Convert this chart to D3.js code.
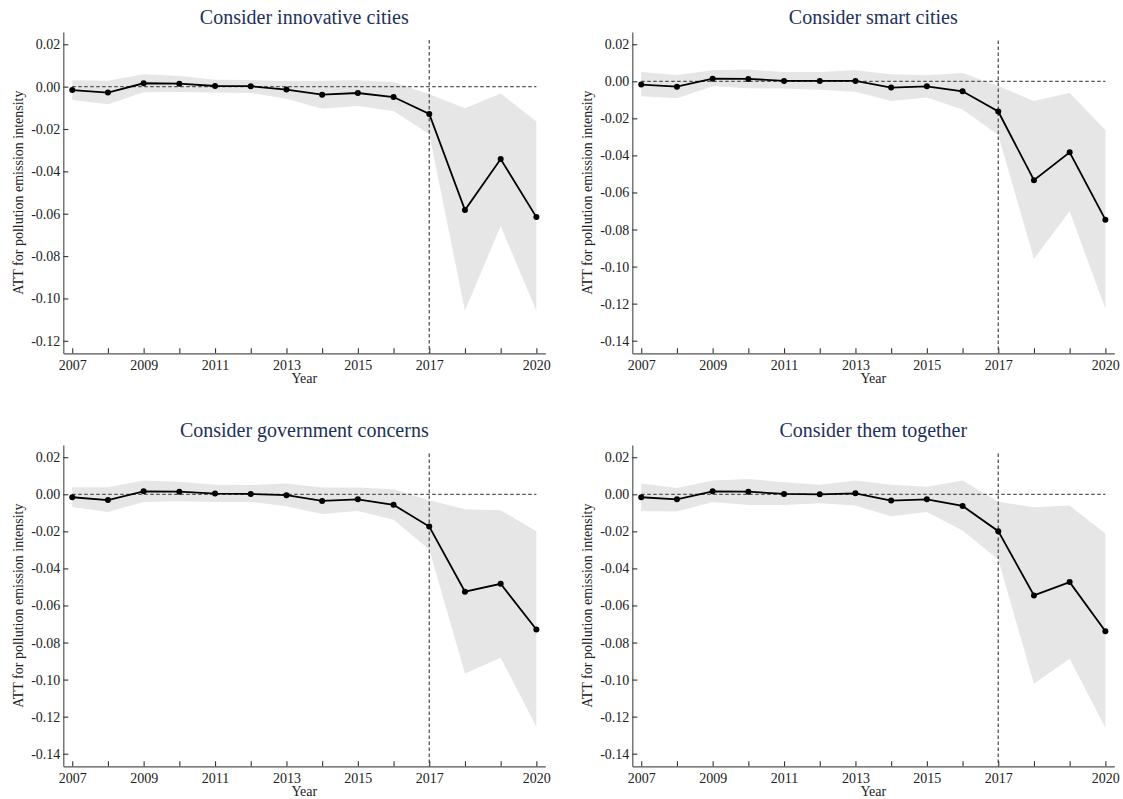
<!DOCTYPE html>
<html>
<head>
<meta charset="utf-8">
<script src="https://cdn.jsdelivr.net/npm/d3@7"></script>
<style>
  html, body { margin: 0; padding: 0; background: #fff; }
  svg { display: block; }
  svg text { font-family: "Liberation Serif", "Times New Roman", Times, serif; }
</style>
</head>
<body>
<svg id="chart" width="1123" height="799"></svg>
<script>
// ---- data ----
const years = [2007, 2008, 2009, 2010, 2011, 2012, 2013, 2014, 2015, 2016, 2017, 2018, 2019, 2020];
const labeledYears = [2007, 2009, 2011, 2013, 2015, 2017, 2020];
const treatYear = 2017;

const titles = [
  "Consider innovative cities",
  "Consider smart cities",
  "Consider government concerns",
  "Consider them together"
];

// point estimates (ATT) and confidence band per panel
const attInnovative   = [-0.0016, -0.0028, 0.0016, 0.0014, 0.0003, 0.0002, -0.0014, -0.0038, -0.0030, -0.0049, -0.0129, -0.0583, -0.0342, -0.0616];
const upperInnovative = [0.0030, 0.0028, 0.0058, 0.0050, 0.0033, 0.0031, 0.0027, 0.0028, 0.0030, 0.0022, -0.0036, -0.0102, -0.0032, -0.0165];
const lowerInnovative = [-0.0063, -0.0083, -0.0027, -0.0025, -0.0028, -0.0030, -0.0057, -0.0104, -0.0091, -0.0115, -0.0224, -0.1058, -0.0658, -0.1058];

const attSmart   = [-0.0018, -0.0029, 0.0014, 0.0013, 0.0002, 0.0002, 0.0002, -0.0034, -0.0027, -0.0054, -0.0163, -0.0534, -0.0383, -0.0747];
const upperSmart = [0.0050, 0.0034, 0.0059, 0.0063, 0.0050, 0.0050, 0.0059, 0.0038, 0.0032, 0.0045, -0.0025, -0.0106, -0.0063, -0.0263];
const lowerSmart = [-0.0081, -0.0091, -0.0027, -0.0038, -0.0039, -0.0045, -0.0057, -0.0106, -0.0088, -0.0152, -0.0290, -0.0958, -0.0702, -0.1227];

const attGov   = [-0.0016, -0.0031, 0.0016, 0.0014, 0.0004, 0.0002, -0.0005, -0.0036, -0.0027, -0.0057, -0.0174, -0.0526, -0.0483, -0.0730];
const upperGov = [0.0038, 0.0038, 0.0075, 0.0068, 0.0052, 0.0050, 0.0058, 0.0036, 0.0036, 0.0027, -0.0032, -0.0081, -0.0086, -0.0199];
const lowerGov = [-0.0068, -0.0095, -0.0041, -0.0038, -0.0041, -0.0041, -0.0065, -0.0106, -0.0090, -0.0137, -0.0298, -0.0967, -0.0882, -0.1254];

const attAll   = [-0.0016, -0.0027, 0.0016, 0.0014, 0.0002, 0.0000, 0.0005, -0.0034, -0.0027, -0.0063, -0.0199, -0.0546, -0.0474, -0.0739];
const upperAll = [0.0058, 0.0034, 0.0074, 0.0083, 0.0065, 0.0052, 0.0074, 0.0052, 0.0041, 0.0074, -0.0040, -0.0070, -0.0061, -0.0212];
const lowerAll = [-0.0092, -0.0093, -0.0041, -0.0058, -0.0058, -0.0049, -0.0061, -0.0119, -0.0095, -0.0196, -0.0352, -0.1022, -0.0888, -0.1260];

// y ticks
const yTicksShort = [0.02, 0.00, -0.02, -0.04, -0.06, -0.08, -0.10, -0.12];
const yTicksLong  = [0.02, 0.00, -0.02, -0.04, -0.06, -0.08, -0.10, -0.12, -0.14];

const yDomainShort = [-0.1259, 0.0258];
const yDomainLong  = [-0.1468, 0.0266];

const yLabel = "ATT for pollution emission intensity";
const xLabel = "Year";

// ---- layout ----
const panels = [
  { title: titles[0], att: attInnovative, upper: upperInnovative, lower: lowerInnovative, ticks: yTicksShort, domain: yDomainShort, col: 0, row: 0 },
  { title: titles[1], att: attSmart,      upper: upperSmart,      lower: lowerSmart,      ticks: yTicksLong,  domain: yDomainLong,  col: 1, row: 0 },
  { title: titles[2], att: attGov,        upper: upperGov,        lower: lowerGov,        ticks: yTicksLong,  domain: yDomainLong,  col: 0, row: 1 },
  { title: titles[3], att: attAll,        upper: upperAll,        lower: lowerAll,        ticks: yTicksLong,  domain: yDomainLong,  col: 1, row: 1 }
];

const colX = [63.3, 632.3];   // left edge (y axis) of each column
const rowTop = [32, 445];     // top of y axis of each row
const plotW = 482;
const plotH = 321.3;

const serif = '"Liberation Serif", "Times New Roman", Times, serif';
const fmt = v => d3.format(".2f")(v).replace("\u2212", "-");
const svg = d3.select("#chart");

panels.forEach(p => {
  const x0 = colX[p.col];
  const y0 = rowTop[p.row];

  const x = d3.scaleLinear().domain([2006.75, 2020.25]).range([x0, x0 + plotW]);
  const y = d3.scaleLinear().domain(p.domain).range([y0 + plotH, y0]);

  const g = svg.append("g");
  const rows = years.map((yr, i) => ({ year: yr, att: p.att[i], lo: p.lower[i], hi: p.upper[i] }));

  // confidence band
  g.append("path")
    .datum(rows)
    .attr("fill", "#e6e6e6")
    .attr("d", d3.area().x(d => x(d.year)).y0(d => y(d.lo)).y1(d => y(d.hi)));

  // zero reference
  g.append("line")
    .attr("x1", x(years[0])).attr("x2", x(years[years.length - 1]))
    .attr("y1", y(0)).attr("y2", y(0))
    .attr("stroke", "#555").attr("stroke-width", 1.3).attr("stroke-dasharray", "3.5,2.5");

  // policy year reference
  g.append("line")
    .attr("x1", x(treatYear)).attr("x2", x(treatYear))
    .attr("y1", y(0.022)).attr("y2", y(p.domain[0]))
    .attr("stroke", "#555").attr("stroke-width", 1.3).attr("stroke-dasharray", "3.5,2.5");

  // estimates
  g.append("path")
    .datum(rows)
    .attr("fill", "none")
    .attr("stroke", "#000")
    .attr("stroke-width", 1.8)
    .attr("d", d3.line().x(d => x(d.year)).y(d => y(d.att)));

  g.selectAll("circle.pt")
    .data(rows)
    .join("circle")
    .attr("class", "pt")
    .attr("cx", d => x(d.year))
    .attr("cy", d => y(d.att))
    .attr("r", 3)
    .attr("fill", "#000");

  // axes
  const yAxis = d3.axisLeft(y)
    .tickValues(p.ticks)
    .tickSizeInner(-5).tickSizeOuter(0)
    .tickPadding(3)
    .tickFormat(fmt);
  const xAxis = d3.axisBottom(x)
    .tickValues(years)
    .tickSizeInner(-5).tickSizeOuter(0)
    .tickPadding(6.5)
    .tickFormat(d => labeledYears.includes(d) ? String(d) : "");

  const ya = g.append("g").attr("transform", `translate(${x0},0)`).call(yAxis);
  const xa = g.append("g").attr("transform", `translate(0,${y0 + plotH})`).call(xAxis);

  [ya, xa].forEach(a => {
    a.attr("font-family", serif).attr("font-size", 14);
    a.select(".domain").attr("stroke", "#555").attr("stroke-width", 1.2);
    a.selectAll(".tick line").attr("stroke", "#333").attr("stroke-width", 1.1);
    a.selectAll(".tick text").attr("fill", "#222");
  });

  // title
  g.append("text")
    .attr("x", x0 + plotW / 2)
    .attr("y", y0 - 8)
    .attr("text-anchor", "middle")
    .attr("fill", "#22305a")
    .attr("font-family", serif)
    .attr("font-size", 20)
    .text(p.title);

  // axis titles
  g.append("text")
    .attr("x", x0 + plotW / 2)
    .attr("y", y0 + plotH + 30)
    .attr("text-anchor", "middle")
    .attr("fill", "#222")
    .attr("font-family", serif)
    .attr("font-size", 14)
    .text(xLabel);

  g.append("text")
    .attr("transform", `translate(${x0 - 45},${y0 + plotH / 2}) rotate(-90)`)
    .attr("dy", "0.35em")
    .attr("text-anchor", "middle")
    .attr("fill", "#222")
    .attr("font-family", serif)
    .attr("font-size", 14)
    .text(yLabel);
});
</script>
</body>
</html>
